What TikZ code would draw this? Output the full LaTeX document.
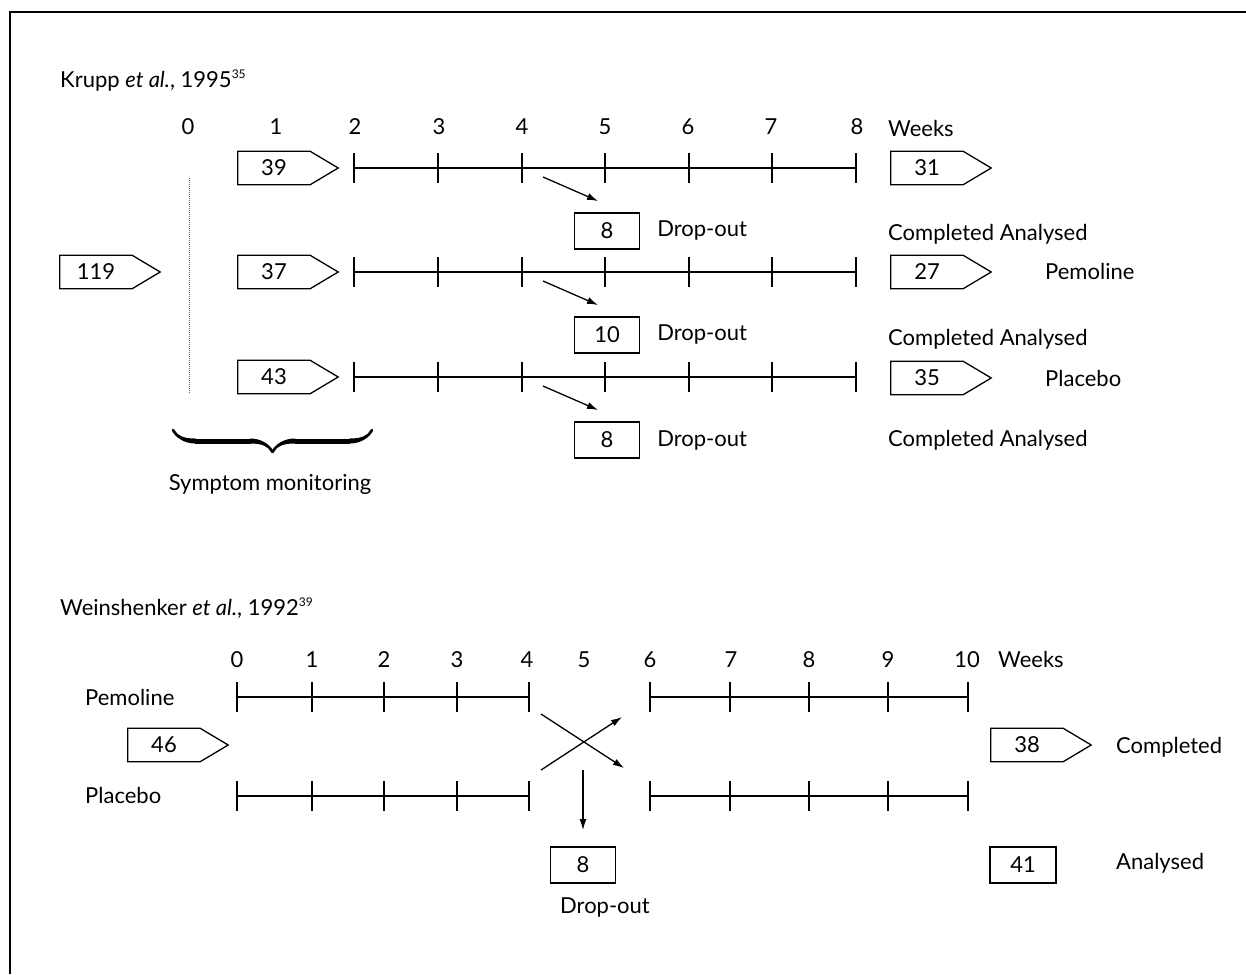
\documentclass[tikz,border=0pt]{standalone}
\usepackage{fontspec}
\setmainfont{Lato}
\usetikzlibrary{positioning,arrows.meta,decorations.pathreplacing,calligraphy}

\begin{document}
\begin{tikzpicture}[
  x=1pt, y=-1pt,
  font=\fontsize{22pt}{26pt}\selectfont,
  line/.style={line width=1.3pt},
  tag/.style={minimum width=72pt, minimum height=33pt, inner sep=0pt,
    append after command={\pgfextra{\draw[line] (\tikzlastnode.north west) -- (\tikzlastnode.north east)
      -- ([xshift=28pt]\tikzlastnode.east) -- (\tikzlastnode.south east) -- (\tikzlastnode.south west) -- cycle;}}},
  box/.style={draw, line width=1.3pt, minimum width=65pt, minimum height=36pt, inner sep=0pt},
  arrow/.style={-{Latex[length=11pt,width=7pt]}, line width=1.3pt},
  label/.style={anchor=west, inner sep=0pt}
]
\useasboundingbox (0,0) rectangle (1246,974);
\draw[line width=1.6pt] (1246,12) -- (10,12) -- (10,974);

% Krupp et al., 1995
\node[anchor=base west, inner sep=0pt] (krupp) at (60,87)
  {Krupp \textit{et al.}, 1995\raisebox{9pt}{\fontsize{12pt}{12pt}\selectfont 35}};
\foreach \x [count=\i from 0] in {188,276,355,439,522,605,688,771,857}
  \node[anchor=base, inner sep=0pt] (wk\i) at (\x,134) {\i};
\node[anchor=base west, inner sep=0pt] (weeks1) at (888,136) {Weeks};
\draw[densely dotted, line width=1pt, black!60] (189,178) -- (189,394);

\node[tag] (n119) at (96,272) {119};
\node[tag] (n39) at (274,168) {39};
\node[tag] (n37) at (274,272) {37};
\node[tag] (n43) at (274,377) {43};
\node[tag] (n31) at (927,168) {31};
\node[tag] (n27) at (927,272) {27};
\node[tag] (n35) at (927,378) {35};
\node[label] (pem1) at (1045,271) {Pemoline};
\node[label] (pla1) at (1045,378) {Placebo};

\foreach \y/\d/\c [count=\r] in {168/8/234, 272/10/339, 377/8/440}{
  \coordinate (ka\r) at (354,\y);
  \coordinate (kb\r) at (856,\y);
  \draw[line] (ka\r) -- (kb\r);
  \foreach \x in {354,438,522,605,689,772,856}
    \draw[line] (\x,\y-15) -- (\x,\y+15);
  \coordinate (ds\r) at (543,\y+9);
  \coordinate (de\r) at (598,\y+33);
  \draw[arrow] (ds\r) -- (de\r);
  \node[box] (drop\r) at (607,\y+63) {\d};
  \node[label, right=17pt of drop\r] (dtxt\r) {Drop-out};
  \node[label] (comp\r) at (888,\c) {Completed Analysed};
}

\draw[decorate, decoration={calligraphic brace, amplitude=22pt}, pen colour=black, line width=5pt] (372,430) -- (173,430);
\node (symp) at (270,484) {Symptom monitoring};

% Weinshenker et al., 1992
\node[anchor=base west, inner sep=0pt] (wein) at (60,615)
  {Weinshenker \textit{et al.}, 1992\raisebox{9pt}{\fontsize{12pt}{12pt}\selectfont 39}};
\foreach \x [count=\i from 0] in {237,312,384,457,527,584,650,731,809,888,967}
  \node[anchor=base, inner sep=0pt] (wb\i) at (\x,667) {\i};
\node[anchor=base west, inner sep=0pt] (weeks2) at (998,667) {Weeks};
\node[label] (pem2) at (85,697) {Pemoline};
\node[label] (pla2) at (85,795) {Placebo};

\foreach \y [count=\r] in {697,796}{
  \coordinate (la\r) at (237,\y);
  \coordinate (lb\r) at (529,\y);
  \coordinate (ra\r) at (650,\y);
  \coordinate (rb\r) at (968,\y);
  \draw[line] (la\r) -- (lb\r);
  \draw[line] (ra\r) -- (rb\r);
  \foreach \x in {237,312,384,457,529,650,730,809,888,968}
    \draw[line] (\x,\y-15) -- (\x,\y+15);
}

\node[tag] (n46) at (164,745) {46};
\node[tag] (n38) at (1027,745) {38};
\node[label] (compl) at (1116,747) {Completed};

\coordinate (xa) at (541,714);
\coordinate (xb) at (624,768);
\coordinate (xc) at (541,770);
\coordinate (xd) at (622,717);
\draw[arrow] (xa) -- (xb);
\draw[arrow] (xc) -- (xd);
\coordinate (dn) at (583,770);
\draw[arrow] (dn) -- (583,830);

\node[box] (drop4) at (583,865) {8};
\node (dtxt4) at (605,907) {Drop-out};
\node[box, minimum width=66pt] (n41) at (1023,865) {41};
\node[label] (anal) at (1116,863) {Analysed};
\end{tikzpicture}
\end{document}
